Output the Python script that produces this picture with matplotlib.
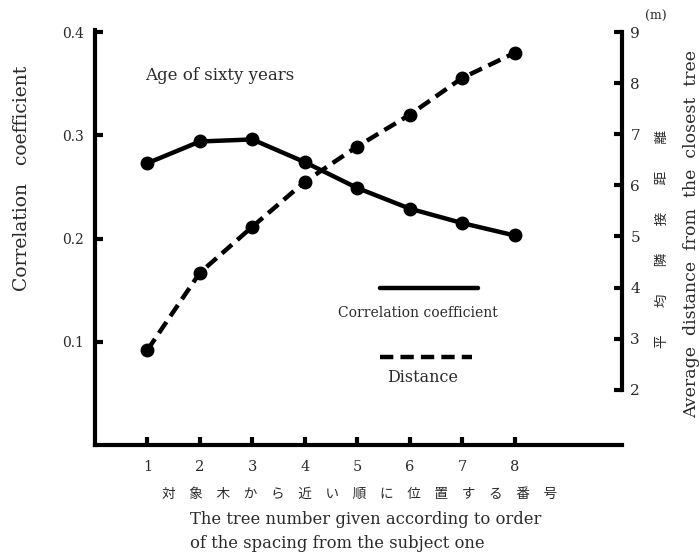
import matplotlib
matplotlib.use("Agg")
import matplotlib.pyplot as plt
from matplotlib.lines import Line2D

# Data
tree_number = [1, 2, 3, 4, 5, 6, 7, 8]
correlation = [0.273, 0.294, 0.296, 0.274, 0.249, 0.229, 0.215, 0.203]
distance = [2.78, 4.29, 5.19, 6.07, 6.76, 7.38, 8.10, 8.59]
left_ticks = [0.1, 0.2, 0.3, 0.4]
right_ticks = [2, 3, 4, 5, 6, 7, 8, 9]

serif = ["DejaVu Serif"]
cjk = ["Noto Sans CJK JP", "DejaVu Sans"]
txt = "#2a2a2a"

fig = plt.figure(figsize=(6.99, 5.53), dpi=100)
ax = fig.add_axes([95/699, 1-445/553, (622-95)/699, (445-30)/553])
ax2 = ax.twinx()

ax.plot(tree_number, correlation, color="black", lw=3.2, marker="o", ms=9, solid_capstyle="round")
ax2.plot(tree_number, distance, color="black", lw=3.2, marker="o", ms=9, linestyle=(0, (3, 1.6)))

ax.set_xlim(0, 10.05)
ax.set_ylim(0, 0.402)
ax2.set_ylim(0.92, 9.04)

ax.set_xticks(tree_number)
ax.set_xticklabels([str(t) for t in tree_number], family=serif, fontsize=10.5, color=txt)
ax.set_yticks(left_ticks)
ax.set_yticklabels([f"{v:.1f}" for v in left_ticks], family=serif, fontsize=10, color=txt)
ax2.set_yticks(right_ticks)
ax2.set_yticklabels([str(v) for v in right_ticks], family=serif, fontsize=11, color=txt)

for a in (ax, ax2):
    for s in a.spines.values():
        s.set_linewidth(3)
    a.spines["top"].set_visible(False)
ax.spines["right"].set_visible(False)
ax2.spines["left"].set_visible(False)
ax2.spines["bottom"].set_visible(False)
ax2.spines["right"].set_bounds(2, 9)

ax.tick_params(axis="y", direction="in", length=6, width=3, pad=8)
ax.tick_params(axis="x", direction="in", length=6, width=3, pad=11)
ax2.tick_params(axis="y", direction="in", length=6, width=3, pad=6)

# Axis labels
fig.text(22/699, 1-178/553, "Correlation   coefficient", rotation=90, ha="center", va="center",
         family=serif, fontsize=13.5, color=txt)
fig.text(692/699, 1-234/553, "Average  distance  from  the  closest  tree", rotation=90,
         ha="center", va="center", family=serif, fontsize=12.5, color=txt)
fig.text(662/699, 1-239/553, "平\u3000\u3000均\u3000\u3000隣\u3000\u3000接\u3000\u3000距\u3000\u3000離",
         rotation=90, ha="center", va="center", family=cjk, fontsize=9.8, color=txt)
fig.text(656/699, 1-16/553, "(m)", ha="center", va="center", family=serif, fontsize=9, color=txt)

fig.text(145/699, 1-75/553, "Age of sixty years", ha="left", va="center", family=serif,
         fontsize=12, color=txt)

fig.text(360/699, 1-494/553,
         "対\u3000象\u3000木\u3000か\u3000ら\u3000近\u3000い\u3000順\u3000に\u3000位\u3000置\u3000す\u3000る\u3000番\u3000号",
         ha="center", va="center", family=cjk, fontsize=9.8, color=txt)
fig.text(190/699, 1-519/553, "The tree number given according to order", ha="left", va="center",
         family=serif, fontsize=11.8, color=txt)
fig.text(190/699, 1-543/553, "of the spacing from the subject one", ha="left", va="center",
         family=serif, fontsize=11.8, color=txt)

# Legend (manual, text beneath line samples)
fig.add_artist(Line2D([380/699, 478/699], [1-288/553, 1-288/553], color="black", lw=3.2,
                      solid_capstyle="round"))
fig.text(418/699, 1-313/553, "Correlation coefficient", ha="center", va="center", family=serif,
         fontsize=10, color=txt)
fig.add_artist(Line2D([380/699, 472/699], [1-357/553, 1-357/553], color="black", lw=3.2,
                      linestyle=(0, (3, 1.6))))
fig.text(423/699, 1-378/553, "Distance", ha="center", va="center", family=serif,
         fontsize=11.5, color=txt)

fig.savefig("out.png", dpi=100)
